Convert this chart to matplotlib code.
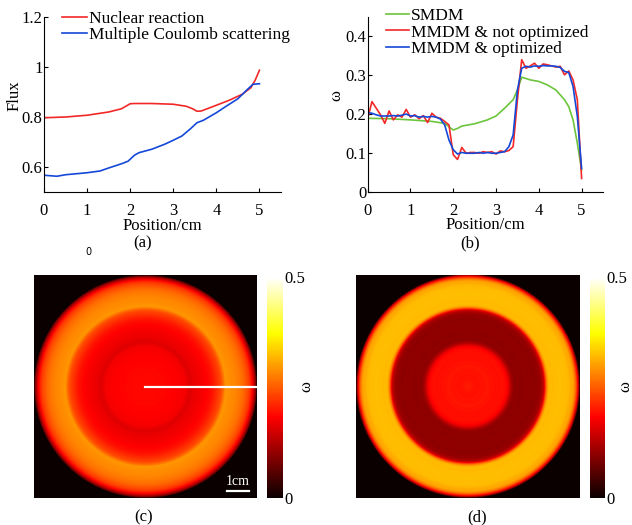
import numpy as np
import matplotlib
matplotlib.use("Agg")
import matplotlib.pyplot as plt

plt.rcParams['font.family'] = ['Liberation Serif', 'DejaVu Serif']

# ---------------- data ----------------
# (a) flux profiles
pos_a_red = [0, 0.5, 1.0, 1.5, 1.8, 1.9, 2.0, 2.1, 2.5, 3.0, 3.3, 3.45, 3.55, 3.65,
             4.0, 4.3, 4.6, 4.8, 4.9, 5.0]
flux_nuclear = [0.797, 0.800, 0.807, 0.820, 0.833, 0.843, 0.853, 0.854, 0.854, 0.851,
                0.843, 0.833, 0.823, 0.824, 0.847, 0.867, 0.891, 0.917, 0.947, 0.987]
pos_a_blue = [0, 0.3, 0.5, 1.0, 1.3, 1.5, 1.8, 1.95, 2.1, 2.2, 2.5, 2.8, 3.0, 3.2, 3.4,
              3.55, 3.7, 4.0, 4.2, 4.5, 4.7, 4.85, 5.0]
flux_coulomb = [0.567, 0.563, 0.569, 0.577, 0.584, 0.596, 0.613, 0.623, 0.647, 0.657,
                0.671, 0.691, 0.707, 0.724, 0.753, 0.777, 0.787, 0.817, 0.840, 0.873,
                0.907, 0.931, 0.933]

# (b) omega profiles
pos_smdm = [0, 0.5, 1.0, 1.5, 1.8, 1.95, 2.0, 2.1, 2.2, 2.5, 2.8, 3.0, 3.2, 3.4, 3.5,
            3.6, 3.8, 4.0, 4.2, 4.4, 4.6, 4.7, 4.8, 4.9, 5.0]
omega_smdm = [0.189, 0.188, 0.185, 0.181, 0.176, 0.163, 0.159, 0.163, 0.169, 0.175,
              0.185, 0.195, 0.215, 0.237, 0.262, 0.295, 0.288, 0.284, 0.275, 0.262,
              0.237, 0.219, 0.185, 0.125, 0.056]
pos_mmdm = [round(0.1 * i, 1) for i in range(51)]
omega_not_opt = [0.189, 0.232, 0.215, 0.198, 0.176, 0.208, 0.185, 0.198, 0.192, 0.212,
                 0.192, 0.198, 0.188, 0.196, 0.178, 0.202, 0.192, 0.189, 0.181, 0.172,
                 0.095, 0.083, 0.114, 0.099, 0.101, 0.101, 0.099, 0.103, 0.101, 0.103,
                 0.097, 0.105, 0.103, 0.106, 0.116, 0.237, 0.340, 0.318, 0.324, 0.331,
                 0.318, 0.329, 0.327, 0.324, 0.321, 0.323, 0.301, 0.311, 0.288, 0.237,
                 0.034]
omega_opt = [0.204, 0.202, 0.198, 0.195, 0.195, 0.195, 0.196, 0.195, 0.197, 0.200,
             0.195, 0.196, 0.192, 0.194, 0.192, 0.194, 0.192, 0.187, 0.172, 0.133,
             0.108, 0.097, 0.101, 0.099, 0.099, 0.099, 0.101, 0.099, 0.101, 0.099,
             0.099, 0.101, 0.103, 0.116, 0.146, 0.262, 0.318, 0.323, 0.321, 0.324,
             0.323, 0.325, 0.324, 0.324, 0.323, 0.320, 0.310, 0.307, 0.271, 0.194,
             0.060]

xticks = [0, 1, 2, 3, 4, 5]
yticks_a = [0.6, 0.8, 1.0, 1.2]
yticklabels_a = ['0.6', '0.8', '1', '1.2']
yticks_b = [0, 0.1, 0.2, 0.3, 0.4]
yticklabels_b = ['0', '0.1', '0.2', '0.3', '0.4']

RED = '#f22828'
BLUE = '#1448d8'
GREEN = '#6cc43c'
FS = 12
LFS = 12.5

fig = plt.figure(figsize=(6.32, 5.25), dpi=100)


def style_axes(ax):
    ax.spines['top'].set_visible(False)
    ax.spines['right'].set_visible(False)
    ax.tick_params(direction='in', length=3, labelsize=FS, width=0.8)
    ax.tick_params(axis='x', pad=8)
    ax.tick_params(axis='y', pad=1)
    ax.set_xlim(0, 5.5)
    ax.set_xticks(xticks)
    ax.set_xlabel('Position/cm', fontsize=FS, labelpad=-1)


# ---- (a)
axa = fig.add_axes([0.0696, 0.6343, 0.375, 0.3333])
axa.plot(pos_a_red, flux_nuclear, color=RED, lw=1.2, label='Nuclear reaction')
axa.plot(pos_a_blue, flux_coulomb, color=BLUE, lw=1.2, label='Multiple Coulomb scattering')
style_axes(axa)
axa.set_ylim(0.5, 1.2)
axa.set_yticks(yticks_a)
axa.set_yticklabels(yticklabels_a)
axa.set_ylabel('Flux', fontsize=FS)
axa.yaxis.set_label_coords(-0.09, 0.55)
axa.legend(loc='upper left', bbox_to_anchor=(0.04, 1.085), frameon=False, fontsize=LFS,
           handlelength=1.42, handletextpad=0.1, labelspacing=0.0, borderpad=0)
fig.text(143 / 632, 1 - 243 / 525, '(a)', ha='center', va='center', fontsize=FS)
fig.text(88 / 632, 1 - 252 / 525, '0', ha='center', va='center', fontsize=7,
         family='DejaVu Sans')

# ---- (b)
axb = fig.add_axes([0.5818, 0.6349, 0.3723, 0.3327])
axb.plot(pos_smdm, omega_smdm, color=GREEN, lw=1.2, label='SMDM')
axb.plot(pos_mmdm, omega_not_opt, color=RED, lw=1.2, label='MMDM & not optimized')
axb.plot(pos_mmdm, omega_opt, color=BLUE, lw=1.2, label='MMDM & optimized')
style_axes(axb)
axb.set_ylim(0, 0.45)
axb.set_yticks(yticks_b)
axb.set_yticklabels(yticklabels_b)
axb.set_ylabel('ω', fontsize=FS)
axb.yaxis.set_label_coords(-0.10, 0.55)
axb.legend(loc='upper left', bbox_to_anchor=(0.04, 1.10), frameon=False, fontsize=LFS,
           handlelength=1.35, handletextpad=0.1, labelspacing=0.0, borderpad=0)
fig.text(470 / 632, 1 - 243 / 525, '(b)', ha='center', va='center', fontsize=FS)

# ---- images (c), (d): radial maps of the profiles
n = 401
g = np.linspace(-5.0, 5.0, n)
X, Y = np.meshgrid(g, g)
R = np.sqrt(X ** 2 + Y ** 2)


def radial_map(px, py):
    m = np.interp(R, px, py)
    m[R > 5.0] = 0.0
    return m


img_c = radial_map(pos_smdm, omega_smdm)
img_d = radial_map(pos_mmdm, omega_opt)


def image_panel(rect, crect, img, label, label_x, omega_x):
    ax = fig.add_axes(rect)
    im = ax.imshow(img, cmap='hot', vmin=0, vmax=0.5, extent=[-5, 5, -5, 5],
                   origin='lower', interpolation='bilinear')
    ax.set_xticks([])
    ax.set_yticks([])
    for s in ax.spines.values():
        s.set_visible(False)
    cax = fig.add_axes(crect)
    cb = fig.colorbar(im, cax=cax)
    cb.set_ticks([0, 0.5])
    cb.set_ticklabels(['0', '0.5'])
    cb.outline.set_visible(False)
    cax.tick_params(length=0, labelsize=FS, pad=1)
    fig.text(omega_x, 1 - 387 / 525, 'ω', rotation=90, ha='center', va='center',
             fontsize=FS)
    fig.text(label_x, 1 - 517 / 525, label, ha='center', va='center', fontsize=FS)
    return ax


axc = image_panel([0.0538, 0.0514, 0.3528, 0.4248], [0.4225, 0.0514, 0.0253, 0.4210],
                  img_c, '(c)', 144 / 632, 306 / 632)
axc.plot([0, 5], [0, 0], color='white', lw=1.6)
axc.plot([3.65, 4.65], [-4.69, -4.69], color='white', lw=1.6)
axc.text(4.15, -4.55, '1cm', color='white', ha='center', va='bottom', fontsize=10)

axd = image_panel([0.5633, 0.0514, 0.3544, 0.4248], [0.9335, 0.0514, 0.0237, 0.4210],
                  img_d, '(d)', 477 / 632, 625 / 632)

fig.savefig('out.png', dpi=100)
